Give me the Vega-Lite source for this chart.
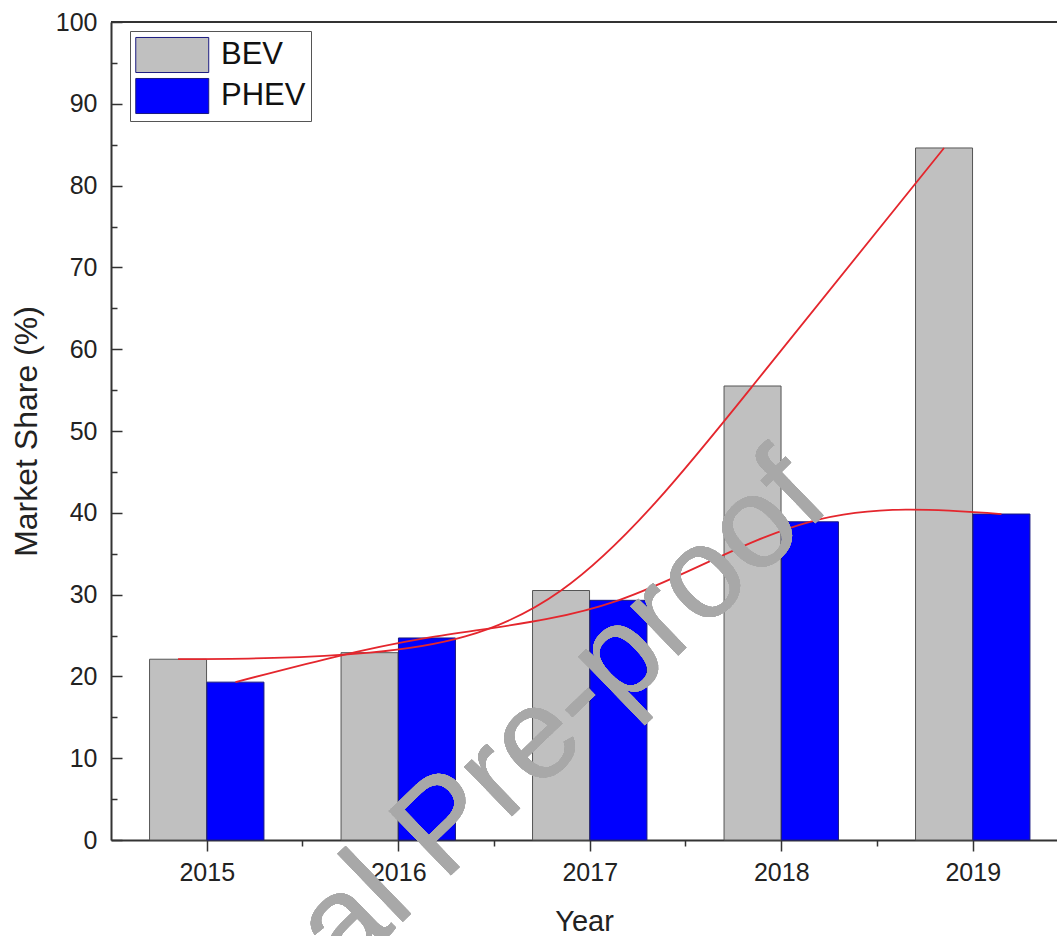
{
  "$schema": "https://vega.github.io/schema/vega-lite/v6.json",
  "width": 946,
  "height": 818,
  "autosize": "none",
  "padding": {"left": 111, "top": 22, "right": 0, "bottom": 96},
  "background": "white",
  "config": {
    "view": {"stroke": null},
    "font": "Liberation Sans",
    "axis": {
      "domainColor": "#333333",
      "domainWidth": 2,
      "tickColor": "#333333",
      "tickWidth": 1.5,
      "labelFont": "Liberation Sans",
      "labelColor": "#222222",
      "labelFontSize": 25,
      "titleFont": "Liberation Sans",
      "titleFontWeight": "normal",
      "titleColor": "#222222",
      "titleFontSize": 30,
      "grid": false
    }
  },
  "data": {
    "values": [
      {"year": 2015, "type": "BEV", "share": 22.1},
      {"year": 2016, "type": "BEV", "share": 22.9},
      {"year": 2017, "type": "BEV", "share": 30.5},
      {"year": 2018, "type": "BEV", "share": 55.5},
      {"year": 2019, "type": "BEV", "share": 84.6},
      {"year": 2015, "type": "PHEV", "share": 19.3},
      {"year": 2016, "type": "PHEV", "share": 24.7},
      {"year": 2017, "type": "PHEV", "share": 29.3},
      {"year": 2018, "type": "PHEV", "share": 38.9},
      {"year": 2019, "type": "PHEV", "share": 39.85}
    ]
  },
  "layer": [
    {
      "mark": {"type": "rule", "color": "#333333", "strokeWidth": 2},
      "encoding": {"y": {"datum": 100, "type": "quantitative"}}
    },
    {
      "transform": [{"filter": "datum.type === 'BEV'"}],
      "mark": {"type": "bar", "orient": "vertical", "width": 57, "xOffset": -28.7, "stroke": "#555555", "strokeWidth": 1},
      "encoding": {
        "x": {
          "field": "year", "type": "quantitative",
          "scale": {"domain": [2014.5, 2019.44], "nice": false, "zero": false, "padding": 0},
          "axis": {
            "title": "Year",
            "titleFontSize": 29,
            "values": [2015, 2015.5, 2016, 2016.5, 2017, 2017.5, 2018, 2018.5, 2019],
            "labelExpr": "datum.value % 1 === 0 ? format(datum.value, 'd') : ''",
            "tickSize": {"condition": {"test": "datum.value % 1 === 0", "value": 11}, "value": 6},
            "labelPadding": 9,
            "titlePadding": 22,
            "labelFlush": false,
            "labelOverlap": false
          }
        },
        "y": {
          "field": "share", "type": "quantitative",
          "scale": {"domain": [0, 100], "nice": false, "padding": 0},
          "axis": {
            "title": "Market Share (%)",
            "titleFontSize": 32,
            "values": [0, 5, 10, 15, 20, 25, 30, 35, 40, 45, 50, 55, 60, 65, 70, 75, 80, 85, 90, 95, 100],
            "labelExpr": "datum.value % 10 === 0 ? format(datum.value, 'd') : ''",
            "tickSize": {"condition": {"test": "datum.value % 10 === 0", "value": -11}, "value": -6},
            "labelPadding": 25,
            "titlePadding": 12,
            "labelFlush": false,
            "labelOverlap": false
          }
        },
        "color": {
          "field": "type", "type": "nominal",
          "scale": {"domain": ["BEV", "PHEV"], "range": ["#c0c0c0", "#0000ff"]},
          "legend": {
            "orient": "none",
            "legendX": 19,
            "legendY": 9,
            "title": null,
            "symbolType": "M-1,-0.96L3,-0.96L3,0.96L-1,0.96Z",
            "symbolSize": 1332,
            "symbolStrokeColor": "#555555",
            "symbolStrokeWidth": 1,
            "symbolOpacity": 1,
            "labelFontSize": 31,
            "labelFont": "Liberation Sans",
            "labelColor": "#111111",
            "labelOffset": 48,
            "labelLimit": 300,
            "rowPadding": 1,
            "padding": 5,
            "strokeColor": "#555555",
            "fillColor": "white"
          }
        }
      }
    },
    {
      "transform": [{"filter": "datum.type === 'PHEV'"}],
      "mark": {"type": "bar", "orient": "vertical", "width": 57, "xOffset": 28.7, "stroke": "#1a1a80", "strokeWidth": 1},
      "encoding": {
        "x": {"field": "year", "type": "quantitative"},
        "y": {"field": "share", "type": "quantitative"},
        "color": {"field": "type", "type": "nominal"}
      }
    },
    {
      "transform": [{"filter": "datum.type === 'BEV'"}],
      "mark": {"type": "line", "interpolate": "natural", "xOffset": -28.7, "color": "#e4262d", "strokeWidth": 1.8},
      "encoding": {
        "x": {"field": "year", "type": "quantitative"},
        "y": {"field": "share", "type": "quantitative"}
      }
    },
    {
      "transform": [{"filter": "datum.type === 'PHEV'"}],
      "mark": {"type": "line", "interpolate": "natural", "xOffset": 28.7, "color": "#e4262d", "strokeWidth": 1.8},
      "encoding": {
        "x": {"field": "year", "type": "quantitative"},
        "y": {"field": "share", "type": "quantitative"}
      }
    },
    {
      "mark": {"type": "text", "text": "Journal Pre-proof", "font": "Liberation Sans", "fontSize": 130, "angle": -44, "align": "right", "baseline": "alphabetic", "fill": "#a8a8a8", "fillOpacity": 0.6},
      "encoding": {
        "x": {"datum": 2018.27, "type": "quantitative"},
        "y": {"datum": 40.8, "type": "quantitative"}
      }
    }
  ]
}
